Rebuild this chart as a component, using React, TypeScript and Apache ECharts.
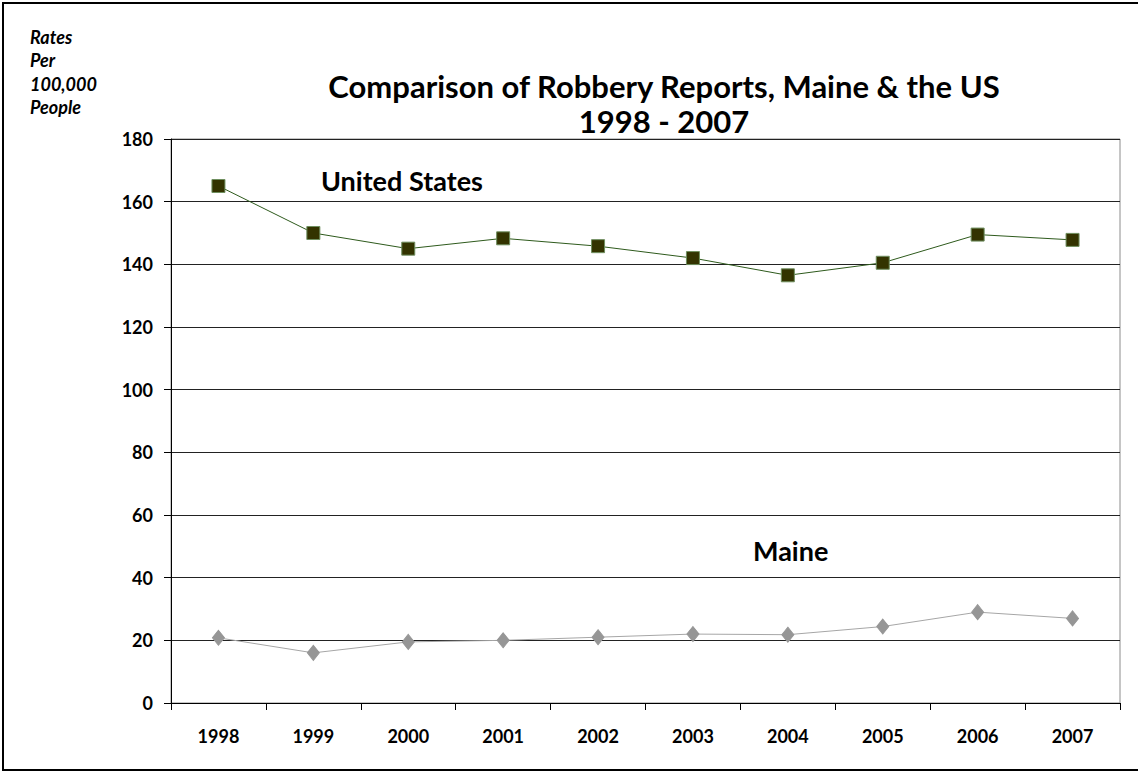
import React, { useEffect, useRef } from "react";
import * as echarts from "echarts";

const years = ["1998", "1999", "2000", "2001", "2002", "2003", "2004", "2005", "2006", "2007"];
const usRates = [165, 150, 145, 148.3, 145.8, 142, 136.5, 140.5, 149.5, 147.8];
const maineRates = [20.8, 16, 19.5, 20, 21, 22, 21.8, 24.4, 29, 27];
const yTicks = { min: 0, max: 180, interval: 20 };

const FONT = "Lato, 'Open Sans', sans-serif";

export default function App() {
  const ref = useRef<HTMLDivElement>(null);
  useEffect(() => {
    if (!ref.current) return;
    const chart = echarts.init(ref.current, null, { renderer: "svg" });
    chart.setOption({
      animation: false,
      backgroundColor: "#ffffff",
      textStyle: { fontFamily: FONT },
      title: {
        text: "Comparison of Robbery Reports, Maine & the US\n1998 - 2007",
        left: 659,
        top: 63,
        textAlign: "center",
        textStyle: { fontFamily: FONT, fontSize: 31, fontWeight: "bold", color: "#000", lineHeight: 35 },
      },
      grid: {
        left: 171,
        right: 18,
        top: 139,
        bottom: 70,
        show: true,
        borderColor: "#8c8c8c",
        borderWidth: 1,
        backgroundColor: "transparent",
      },
      xAxis: {
        type: "category",
        data: years,
        boundaryGap: true,
        axisLine: { lineStyle: { color: "#000", width: 1 } },
        axisTick: { show: true, interval: 0, length: 7, lineStyle: { color: "#000" } },
        axisLabel: { margin: 24, fontFamily: FONT, fontSize: 18, fontWeight: "bold", color: "#000" },
        splitLine: { show: false },
      },
      yAxis: {
        type: "value",
        min: yTicks.min,
        max: yTicks.max,
        interval: yTicks.interval,
        axisLine: { show: true, lineStyle: { color: "#000", width: 1 } },
        axisTick: { show: true, length: 7, lineStyle: { color: "#000" } },
        axisLabel: { margin: 18, fontFamily: FONT, fontSize: 18, fontWeight: "bold", color: "#000" },
        splitLine: { show: true, lineStyle: { color: "#222", width: 1 } },
      },
      graphic: [
        {
          type: "rect",
          shape: { x: 3, y: 3, width: 1160, height: 767 },
          style: { fill: "none", stroke: "#000", lineWidth: 2 },
          silent: true,
        },
        {
          type: "text",
          left: 30,
          top: 25,
          style: {
            text: "Rates\nPer\n100,000\nPeople",
            font: `italic bold 18px ${FONT}`,
            fill: "#000",
            lineHeight: 23.5,
          },
        },
        {
          type: "text",
          left: 321,
          top: 167,
          style: { text: "United States", font: `bold 27px ${FONT}`, fill: "#000" },
        },
        {
          type: "text",
          left: 753,
          top: 537,
          style: { text: "Maine", font: `bold 27px ${FONT}`, fill: "#000" },
        },
      ],
      series: [
        {
          name: "United States",
          type: "line",
          data: usRates,
          symbol: "rect",
          symbolSize: 13,
          lineStyle: { color: "#2e5a1c", width: 1 },
          itemStyle: { color: "#333300", borderColor: "#6f8f5f", borderWidth: 1 },
          z: 5,
        },
        {
          name: "Maine",
          type: "line",
          data: maineRates,
          symbol: "diamond",
          symbolSize: [12, 15],
          lineStyle: { color: "#a6a6a6", width: 1 },
          itemStyle: { color: "#969696", borderColor: "#969696" },
          z: 5,
        },
      ],
    });
    return () => chart.dispose();
  }, []);
  return (
    <div
      ref={ref}
      style={{ position: "fixed", left: 0, top: 0, width: 1138, height: 773 }}
    />
  );
}
